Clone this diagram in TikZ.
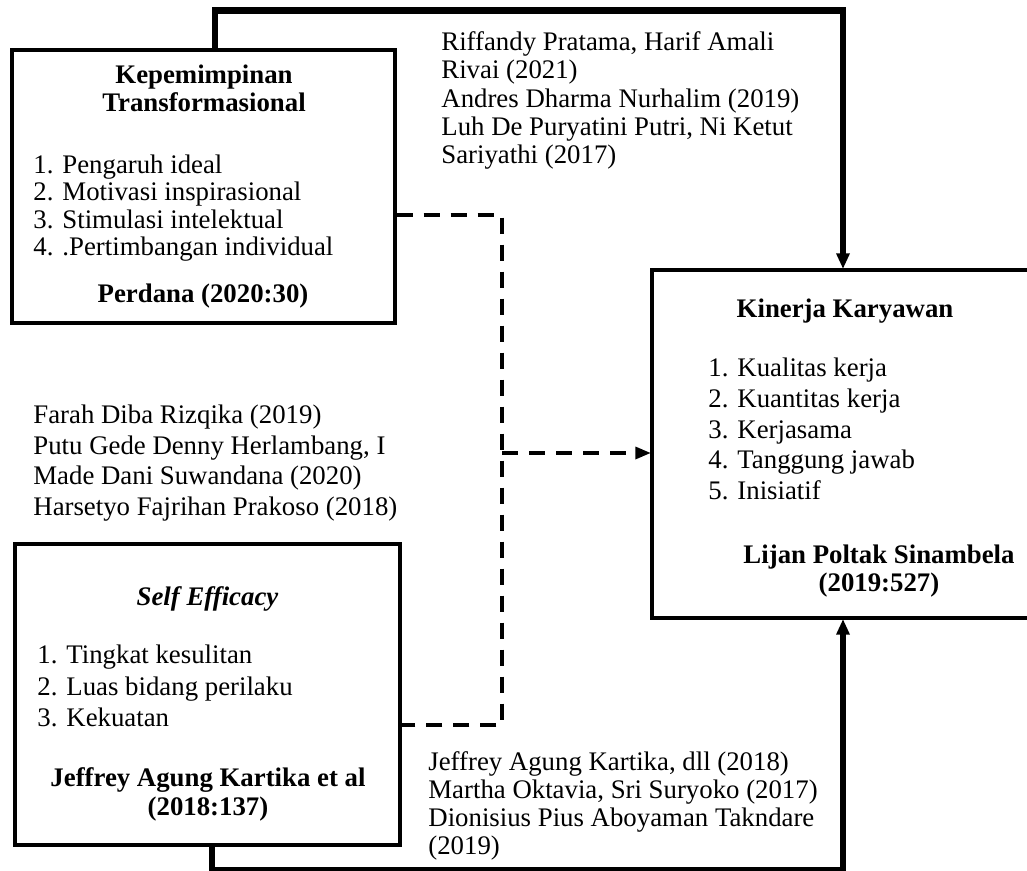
\documentclass[tikz,border=0pt]{standalone}
\usepackage{fontspec}
\setmainfont{Liberation Serif}
\begin{document}
\begin{tikzpicture}[x=0.5pt,y=-0.5pt,
	varbox/.style={draw=black,line width=1.6pt,rectangle},
	mainline/.style={draw=black,line width=3.2pt,shorten >=6pt},
	dashline/.style={draw=black,line width=2.1pt,dash pattern=on 8pt off 5.5pt},
	reftext/.style={anchor=north west,align=left,font=\fontsize{13.4}{14.1}\selectfont},
	boldtitle/.style={align=center,font=\fontsize{13.4}{14}\selectfont\bfseries}]
	\tikzstyle{every node}+=[inner sep=0pt]
	\useasboundingbox (0,0) rectangle (1027,871);
	\clip (0,0) rectangle (1027,871);
	% variable boxes
	\draw (203.5,186.5) node [varbox,minimum width=191.5pt,minimum height=136.5pt] (kt) {};
	\draw (843,444) node [varbox,minimum width=191pt,minimum height=174pt] (kk) {};
	\draw (207.5,694.5) node [varbox,minimum width=192.5pt,minimum height=150.5pt] (se) {};
	% Kepemimpinan Transformasional
	\draw (204,64.5) node [boldtitle,anchor=north] (kttitle) {Kepemimpinan\\Transformasional};
	\draw (33,154.5) node [reftext,font=\fontsize{13.4}{13.7}\selectfont] (ktlist) {1. Pengaruh ideal\\2. Motivasi inspirasional\\3. Stimulasi intelektual\\4. .Pertimbangan individual};
	\draw (203,303) node [boldtitle,anchor=base] (ktsrc) {Perdana (2020:30)};
	% Kinerja Karyawan
	\draw (845,318) node [boldtitle,anchor=base] (kktitle) {Kinerja Karyawan};
	\draw (708,357.5) node [reftext,font=\fontsize{13.4}{15.4}\selectfont] (kklist) {1. Kualitas kerja\\2. Kuantitas kerja\\3. Kerjasama\\4. Tanggung jawab\\5. Inisiatif};
	\draw (879,544.5) node [boldtitle,anchor=north] (kksrc) {Lijan Poltak Sinambela\\(2019:527)};
	% Self Efficacy
	\draw (207.5,605) node [boldtitle,anchor=base] (setitle) {\itshape Self Efficacy};
	\draw (37,644.5) node [reftext,font=\fontsize{13.4}{15.8}\selectfont] (selist) {1. Tingkat kesulitan\\2. Luas bidang perilaku\\3. Kekuatan};
	\draw (208,767.5) node [boldtitle,anchor=north,font=\fontsize{13.4}{14.5}\selectfont\bfseries] (sesrc) {Jeffrey Agung Kartika et al\\(2018:137)};
	% references
	\draw (441,31.5) node [reftext] (refa) {Riffandy Pratama, Harif Amali\\Rivai (2021)\\Andres Dharma Nurhalim (2019)\\Luh De Puryatini Putri, Ni Ketut\\Sariyathi (2017)};
	\draw (33,404.5) node [reftext,font=\fontsize{13.4}{15.3}\selectfont] (refb) {Farah Diba Rizqika (2019)\\Putu Gede Denny Herlambang, I\\Made Dani Suwandana (2020)\\Harsetyo Fajrihan Prakoso (2018)};
	\draw (428,751) node [reftext,font=\fontsize{13.4}{14}\selectfont] (refc) {Jeffrey Agung Kartika, dll (2018)\\Martha Oktavia, Sri Suryoko (2017)\\Dionisius Pius Aboyaman Takndare\\(2019)};
	% solid connectors
	\draw [mainline] ([xshift=5.75pt]kt.north) -- ++(0,-38) -| (kk.north);
	\fill [black] (kk.north) -- ++(-7,-15) -- ++(14,0) -- cycle;
	\draw [mainline] ([xshift=2.25pt]se.south) -- ++(0,24) -| (kk.south);
	\fill [black] (kk.south) -- ++(-7,15) -- ++(14,0) -- cycle;
	% dashed connectors
	\coordinate (jn) at (502,453);
	\draw [dashline] ([yshift=-14.25pt]kt.east) -| (jn) |- ([yshift=-15.25pt]se.east);
	\draw [dashline,shorten >=7pt] (jn) -- ([yshift=-4.5pt]kk.west);
	\fill [black] ([yshift=-4.5pt]kk.west) -- ++(-15,-6.5) -- ++(0,13) -- cycle;
\end{tikzpicture}
\end{document}
